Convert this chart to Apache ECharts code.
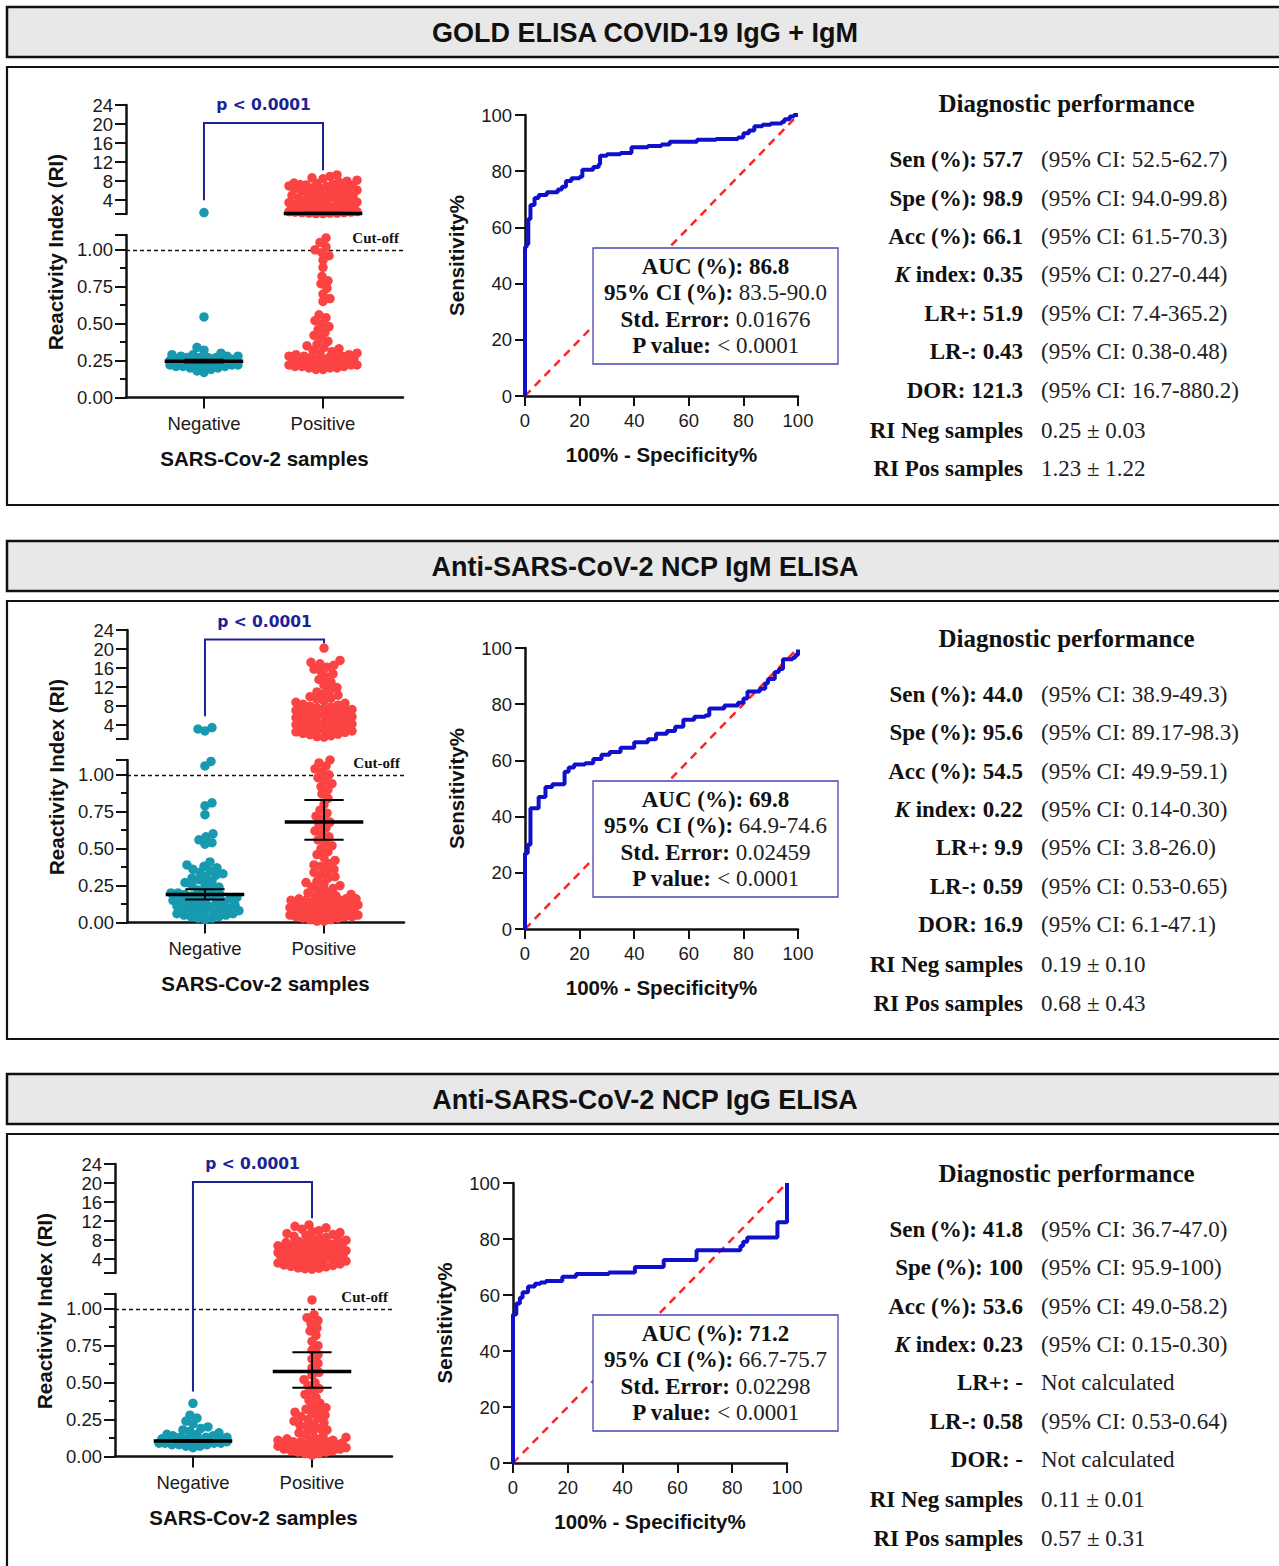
<!DOCTYPE html>
<html>
<head>
<meta charset="utf-8">
<script src="https://cdn.jsdelivr.net/npm/echarts@6/dist/echarts.min.js"></script>
<style>
  body { margin: 0; background: #fff; }
  #main { width: 1279px; height: 1566px; }
</style>
</head>
<body>
<div id="main"></div>
<script>
// ---- data ----
var panelTitles = ['GOLD ELISA COVID-19 IgG + IgM', 'Anti-SARS-CoV-2 NCP IgM ELISA', 'Anti-SARS-CoV-2 NCP IgG ELISA'];
var groups = ['Negative', 'Positive'];
var topTicks = [4, 8, 12, 16, 20, 24];
var bottomTicks = [0, 0.25, 0.5, 0.75, 1];
var minorTicks = [0.125, 0.375, 0.625, 0.875];
var breakAt = 1.1;
var topMax = 24;
var cutOff = 1;

// reactivity index, panel 1 (GOLD ELISA)
var neg1 = [1.4, 0.545, 0.34, 0.32, 0.30, 0.29, 0.29, 0.28, 0.28, 0.28, 0.27, 0.27, 0.27, 0.27, 0.26, 0.26, 0.26, 0.26, 0.26,
  0.25, 0.25, 0.25, 0.25, 0.25, 0.25, 0.24, 0.24, 0.24, 0.24, 0.24, 0.24, 0.23, 0.23, 0.23, 0.23, 0.23, 0.22, 0.22, 0.22, 0.22,
  0.21, 0.21, 0.21, 0.20, 0.20, 0.19, 0.18, 0.17];
var pos1 = [9.3, 9.0, 8.7, 8.5, 8.2, 8.0, 7.8, 7.6, 7.5, 7.4, 7.3, 7.2, 7.1, 7.0, 6.9, 6.8, 6.6, 6.5, 6.4, 6.2, 6.1, 6.0, 5.8,
  5.6, 5.5, 5.4, 5.2, 5.1, 5.0, 4.8, 4.6, 4.5, 4.4, 4.2, 4.1, 4.0, 3.8, 3.7, 3.6, 3.5, 3.3, 3.2, 3.1, 3.0, 2.9, 2.8, 2.6, 2.5,
  2.5, 2.4, 2.3, 2.2, 2.1, 2.0, 2.0, 1.9, 1.8, 1.8, 1.7, 1.6, 1.6, 1.5, 1.5, 1.4, 1.4, 1.3, 1.3, 1.3, 1.2, 1.2,
  1.08, 1.05, 1.02, 1.0, 0.98, 0.96, 0.93, 0.88, 0.82, 0.79, 0.77, 0.74, 0.70, 0.67, 0.65, 0.56, 0.54, 0.52, 0.50, 0.48, 0.46,
  0.44, 0.42, 0.40, 0.38, 0.36, 0.35, 0.34, 0.33, 0.32, 0.31, 0.30, 0.30, 0.29, 0.29, 0.28, 0.28, 0.28, 0.27, 0.27, 0.27,
  0.26, 0.26, 0.26, 0.25, 0.25, 0.25, 0.24, 0.24, 0.24, 0.23, 0.23, 0.23, 0.22, 0.22, 0.22, 0.21, 0.21, 0.21, 0.20, 0.20,
  0.20, 0.19, 0.19];

// panel 2 (NCP IgM)
var neg2 = [3.5, 3.2, 2.8, 1.09, 1.06, 0.81, 0.79, 0.73, 0.60, 0.58, 0.56, 0.54, 0.53, 0.41, 0.39, 0.38, 0.37, 0.36, 0.35, 0.34,
  0.33, 0.32, 0.31, 0.30, 0.29, 0.28, 0.27, 0.26, 0.25, 0.24, 0.23, 0.22, 0.21, 0.20, 0.20, 0.19, 0.19, 0.18, 0.18, 0.17, 0.17,
  0.16, 0.16, 0.15, 0.15, 0.14, 0.14, 0.13, 0.13, 0.12, 0.12, 0.11, 0.11, 0.10, 0.10, 0.09, 0.09, 0.08, 0.08, 0.07, 0.07,
  0.06, 0.06, 0.05, 0.05, 0.04, 0.04, 0.03, 0.03, 0.02];
var pos2 = [20.2, 17.6, 17.2, 16.9, 16.6, 16.2, 15.8, 15.3, 14.8, 14.2, 13.6, 13.0, 12.4, 11.9, 11.4, 11.0, 10.6, 10.3, 10.0,
  9.7, 9.4, 9.1, 8.8, 8.6, 8.4, 8.2, 8.0, 7.8, 7.6, 7.5, 7.3, 7.1, 7.0, 6.8, 6.6, 6.5, 6.3, 6.1, 6.0, 5.8, 5.6, 5.5, 5.3, 5.1,
  5.0, 4.8, 4.6, 4.5, 4.3, 4.1, 4.0, 3.8, 3.6, 3.5, 3.3, 3.1, 3.0, 2.8, 2.6, 2.5, 2.3, 2.1, 2.0, 1.8, 1.6, 1.5,
  1.10, 1.08, 1.06, 1.04, 1.02, 1.00, 0.98, 0.96, 0.94, 0.92, 0.90, 0.87, 0.84, 0.80, 0.76, 0.74, 0.72, 0.70, 0.68, 0.66,
  0.64, 0.62, 0.60, 0.58, 0.56, 0.54, 0.52, 0.50, 0.48, 0.46, 0.44, 0.42, 0.40, 0.39, 0.38, 0.36, 0.35, 0.34, 0.32, 0.31,
  0.30, 0.28, 0.27, 0.26, 0.25, 0.24, 0.23, 0.22, 0.21, 0.20, 0.19, 0.18, 0.18, 0.17, 0.17, 0.16, 0.16, 0.16, 0.15, 0.15,
  0.15, 0.14, 0.14, 0.14, 0.13, 0.13, 0.12, 0.12, 0.12, 0.11, 0.11, 0.10, 0.10, 0.10, 0.09, 0.09, 0.08, 0.08, 0.08, 0.07,
  0.07, 0.07, 0.06, 0.06, 0.06, 0.05, 0.05, 0.05, 0.04, 0.04, 0.04, 0.03, 0.03, 0.02, 0.02, 0.01, 0.01];

// panel 3 (NCP IgG)
var neg3 = [0.36, 0.28, 0.26, 0.24, 0.22, 0.20, 0.19, 0.18, 0.17, 0.16, 0.15, 0.15, 0.14, 0.14, 0.13, 0.13, 0.13, 0.12, 0.12,
  0.12, 0.12, 0.11, 0.11, 0.11, 0.11, 0.11, 0.10, 0.10, 0.10, 0.10, 0.10, 0.09, 0.09, 0.09, 0.09, 0.08, 0.08, 0.08, 0.07,
  0.07, 0.06];
var pos3 = [11.2, 10.9, 10.6, 10.3, 10.0, 9.8, 9.6, 9.4, 9.2, 9.0, 8.8, 8.6, 8.4, 8.2, 8.0, 7.9, 7.7, 7.5, 7.4, 7.2, 7.1, 7.0,
  6.9, 6.8, 6.7, 6.6, 6.5, 6.4, 6.3, 6.2, 6.1, 6.0, 5.9, 5.8, 5.7, 5.6, 5.5, 5.4, 5.3, 5.2, 5.1, 5.0, 4.9, 4.8, 4.7, 4.6, 4.5,
  4.4, 4.3, 4.2, 4.0, 3.9, 3.8, 3.6, 3.5, 3.4, 3.2, 3.1, 3.0, 2.8, 2.7, 2.5, 2.4, 2.2, 2.1, 2.0, 1.9,
  1.06, 0.96, 0.94, 0.92, 0.90, 0.87, 0.85, 0.82, 0.78, 0.75, 0.72, 0.69, 0.66, 0.63, 0.60, 0.57, 0.55, 0.52, 0.50, 0.48,
  0.46, 0.44, 0.42, 0.40, 0.38, 0.36, 0.34, 0.33, 0.32, 0.31, 0.30, 0.29, 0.28, 0.27, 0.26, 0.25, 0.24, 0.23, 0.22, 0.21,
  0.20, 0.19, 0.18, 0.17, 0.16, 0.15, 0.14, 0.13, 0.12, 0.12, 0.11, 0.11, 0.11, 0.10, 0.10, 0.10, 0.09, 0.09, 0.09, 0.08,
  0.08, 0.08, 0.08, 0.07, 0.07, 0.07, 0.07, 0.06, 0.06, 0.06, 0.05, 0.05, 0.05, 0.04, 0.04, 0.03, 0.03, 0.02, 0.02, 0.01];

// mean and 95% CI of mean, [Negative, Positive]
var means1 = [0.245, 1.23], ciLow1 = [0.237, 1.1], ciHigh1 = [0.255, 1.36];
var means2 = [0.19, 0.68], ciLow2 = [0.155, 0.56], ciHigh2 = [0.225, 0.83];
var means3 = [0.105, 0.575], ciLow3 = [0.1, 0.465], ciHigh3 = [0.112, 0.705];

// significance bracket ends (RI values): left foot, top, right foot
var bracketLeft = [4.0, 5.9, 0.44];
var bracketTop = [20.2, 22.0, 20.2];
var bracketRight = [10.3, 21.2, 12.6];
var pText = 'p < 0.0001';

// ROC curves: [100% - specificity, sensitivity]
var roc1 = [[0, 0], [0, 53], [0.6, 54], [1.2, 63], [2, 68], [3.5, 70.5], [5, 71.5], [8, 72.5], [12, 73.5], [13.5, 74.5],
  [15, 76.5], [17, 77.5], [20, 78], [21, 80.5], [25, 81.5], [27, 82.5], [27.5, 85.5], [30, 86], [35, 86.5], [39, 88.5],
  [45, 89], [50, 89.5], [53, 90.5], [60, 90.5], [63, 91.2], [70, 91.5], [78, 92], [80, 93.5], [82, 94.5], [84, 96],
  [87, 96.5], [90, 97], [94, 97.5], [95, 98.5], [97, 99.5], [98.5, 100], [100, 100]];
var roc2 = [[0, 0], [0, 27], [1, 30], [2, 43], [5, 47], [7.5, 50.5], [10, 51.5], [14.5, 56], [16, 57.5], [18, 58.5],
  [22, 59], [25, 60.5], [28, 62], [31, 63], [35, 64.5], [40, 66.5], [45, 67.5], [48, 69.5], [52, 70.5], [55, 72],
  [58, 74.5], [62, 75.5], [66, 76], [67.5, 78.5], [73, 79.5], [78, 80.5], [80, 82], [81.5, 84.5], [86, 85.5], [88, 87.5],
  [89, 89], [91.5, 91.5], [93, 92.5], [94.5, 96], [98, 96.5], [99, 97.5], [100, 99.5]];
var roc3 = [[0, 0], [0, 53], [1.2, 57], [2.5, 59], [3.5, 61], [5.5, 63], [8, 64], [10, 64.5], [12, 65], [18, 66.5],
  [23, 67.5], [35, 68], [42, 68], [44.5, 70], [55, 72.5], [67, 76], [82, 76], [83, 77.5], [84, 79], [85.5, 80.5],
  [96.5, 86], [100, 100]];
var diagLine = [[0, 0], [100, 100]];

var rocAuc = ['86.8', '69.8', '71.2'];
var rocCi = ['83.5-90.0', '64.9-74.6', '66.7-75.7'];
var rocSe = ['0.01676', '0.02459', '0.02298'];
var rocP = ['< 0.0001', '< 0.0001', '< 0.0001'];

var perfLabels1 = ['Sen (%): 57.7', 'Spe (%): 98.9', 'Acc (%): 66.1', 'K index: 0.35', 'LR+: 51.9', 'LR-: 0.43', 'DOR: 121.3', 'RI Neg samples', 'RI Pos samples'];
var perfValues1 = ['(95% CI: 52.5-62.7)', '(95% CI: 94.0-99.8)', '(95% CI: 61.5-70.3)', '(95% CI: 0.27-0.44)', '(95% CI: 7.4-365.2)', '(95% CI: 0.38-0.48)', '(95% CI: 16.7-880.2)', '0.25 ± 0.03', '1.23 ± 1.22'];
var perfLabels2 = ['Sen (%): 44.0', 'Spe (%): 95.6', 'Acc (%): 54.5', 'K index: 0.22', 'LR+: 9.9', 'LR-: 0.59', 'DOR: 16.9', 'RI Neg samples', 'RI Pos samples'];
var perfValues2 = ['(95% CI: 38.9-49.3)', '(95% CI: 89.17-98.3)', '(95% CI: 49.9-59.1)', '(95% CI: 0.14-0.30)', '(95% CI: 3.8-26.0)', '(95% CI: 0.53-0.65)', '(95% CI: 6.1-47.1)', '0.19 ± 0.10', '0.68 ± 0.43'];
var perfLabels3 = ['Sen (%): 41.8', 'Spe (%): 100', 'Acc (%): 53.6', 'K index: 0.23', 'LR+: -', 'LR-: 0.58', 'DOR: -', 'RI Neg samples', 'RI Pos samples'];
var perfValues3 = ['(95% CI: 36.7-47.0)', '(95% CI: 95.9-100)', '(95% CI: 49.0-58.2)', '(95% CI: 0.15-0.30)', 'Not calculated', '(95% CI: 0.53-0.64)', 'Not calculated', '0.11 ± 0.01', '0.57 ± 0.31'];

// ---- layout ----
var SANS = "'Liberation Sans', Arial, sans-serif";
var SERIF = "'Liberation Serif', 'Times New Roman', serif";
var TEAL = '#1799b0', RED = '#fb4343', NAVY = '#1c2396';
var SW = 277, TOPH = 109, GAP = 130, BOTH = 162.5;
var XMIN = 0.345, XMAX = 2.672;
var DOT = 9.5;
var rowOffsets = [56, 94.5, 133, 171.3, 209.5, 248, 286.5, 326.5, 365];
var layout = [
  { head: 7, box: 67, boxBottom: 505, sL: 126, sT: 105, rL: 525, rT: 115, rW: 273, rH: 281, auc: 248, perf: 103.5 },
  { head: 541, box: 601, boxBottom: 1039, sL: 127, sT: 630, rL: 525, rT: 648, rW: 273, rH: 281, auc: 781, perf: 638 },
  { head: 1074, box: 1134, boxBottom: 1620, sL: 115, sT: 1164, rL: 513, rT: 1183, rW: 274, rH: 280, auc: 1315, perf: 1173 }
];
var negs = [neg1, neg2, neg3], poss = [pos1, pos2, pos3];
var meansAll = [means1, means2, means3], lowsAll = [ciLow1, ciLow2, ciLow3], highsAll = [ciHigh1, ciHigh2, ciHigh3];
var rocs = [roc1, roc2, roc3];
var perfLabels = [perfLabels1, perfLabels2, perfLabels3], perfValues = [perfValues1, perfValues2, perfValues3];

// simple beeswarm: horizontal offsets in pixels so dots spread around the group centre
function swarm(vals, pyPerUnit, pxPerUnit, center) {
  var R = 7, MAXH = 34;
  var order = vals.map(function (v, i) { return i; }).sort(function (a, b) { return vals[a] - vals[b]; });
  var placed = [], out = [];
  order.forEach(function (i, n) {
    var y = vals[i] * pyPerUnit, best = 0, bestD = -1, done = false;
    for (var k = 0; k <= MAXH && !done; k++) {
      var cands = k === 0 ? [0] : (n % 2 ? [-k, k] : [k, -k]);
      for (var c = 0; c < cands.length; c++) {
        var dmin = Infinity;
        for (var j = 0; j < placed.length; j++) {
          var dy = placed[j][1] - y;
          if (Math.abs(dy) >= R) continue;
          var dx = placed[j][0] - cands[c];
          var d = Math.sqrt(dx * dx + dy * dy);
          if (d < dmin) dmin = d;
        }
        if (dmin >= R) { best = cands[c]; done = true; break; }
        if (dmin > bestD) { bestD = dmin; best = cands[c]; }
      }
    }
    placed.push([best, y]);
    out.push([center + best / pxPerUnit, vals[i]]);
  });
  return out;
}

function renderMean(params, api) {
  var x = api.value(0), m = api.value(1), lo = api.value(2), hi = api.value(3);
  var c = api.coord([x, m]), pLo = api.coord([x, lo]), pHi = api.coord([x, hi]);
  var half = api.size([0.33, 0])[0], cap = api.size([0.165, 0])[0];
  var st = { stroke: '#000', lineWidth: 2 };
  return {
    type: 'group', children: [
      { type: 'line', shape: { x1: c[0] - half, y1: c[1], x2: c[0] + half, y2: c[1] }, style: { stroke: '#000', lineWidth: 3.5 } },
      { type: 'line', shape: { x1: c[0], y1: pLo[1], x2: c[0], y2: pHi[1] }, style: st },
      { type: 'line', shape: { x1: c[0] - cap, y1: pLo[1], x2: c[0] + cap, y2: pLo[1] }, style: st },
      { type: 'line', shape: { x1: c[0] - cap, y1: pHi[1], x2: c[0] + cap, y2: pHi[1] }, style: st }
    ]
  };
}

var axisLineStyle = { color: '#111', width: 2.5 };
var tickStyle = { color: '#111', width: 2 };
var labelStyle = { color: '#1a1a1a', fontSize: 18.5, fontFamily: SANS };
var nameStyle = { color: '#111', fontSize: 20.5, fontWeight: 'bold', fontFamily: SANS };

var grids = [], xAxes = [], yAxes = [], series = [], graphics = [];
var pxPerX = SW / (XMAX - XMIN), pyTop = TOPH / (topMax - breakAt), pyBot = BOTH / breakAt;

layout.forEach(function (lay, p) {
  var gTop = 3 * p, gBot = 3 * p + 1, gRoc = 3 * p + 2;
  var yTop = 4 * p, yBot = 4 * p + 1, yRoc = 4 * p + 3;
  grids.push({ left: lay.sL, top: lay.sT, width: SW, height: TOPH });
  grids.push({ left: lay.sL, top: lay.sT + GAP, width: SW, height: BOTH });
  grids.push({ left: lay.rL, top: lay.rT, width: lay.rW, height: lay.rH });

  xAxes.push({ type: 'value', gridIndex: gTop, min: XMIN, max: XMAX, show: false });
  xAxes.push({
    type: 'value', gridIndex: gBot, min: XMIN, max: XMAX, splitLine: { show: false },
    axisLine: { onZero: false, lineStyle: axisLineStyle },
    axisTick: { customValues: [1, 2], length: 11, lineStyle: tickStyle },
    axisLabel: Object.assign({ customValues: [1, 2], margin: 16, formatter: function (v) { return groups[Math.round(v) - 1]; } }, labelStyle),
    name: 'SARS-Cov-2 samples', nameLocation: 'middle', nameGap: 50, nameTextStyle: nameStyle
  });
  xAxes.push({
    type: 'value', gridIndex: gRoc, min: 0, max: 100, interval: 20, splitLine: { show: false },
    axisLine: { onZero: false, lineStyle: axisLineStyle },
    axisTick: { length: 10, lineStyle: tickStyle },
    axisLabel: Object.assign({ margin: 15 }, labelStyle),
    name: '100% - Specificity%', nameLocation: 'middle', nameGap: 48, nameTextStyle: nameStyle
  });

  yAxes.push({
    type: 'value', gridIndex: gTop, position: 'left', min: breakAt, max: topMax, splitLine: { show: false },
    axisLine: { onZero: false, lineStyle: axisLineStyle },
    axisTick: { customValues: [breakAt].concat(topTicks), length: 11, lineStyle: tickStyle },
    axisLabel: Object.assign({ customValues: topTicks, margin: 13 }, labelStyle)
  });
  yAxes.push({
    type: 'value', gridIndex: gBot, position: 'left', min: 0, max: breakAt, splitLine: { show: false },
    axisLine: { onZero: false, lineStyle: axisLineStyle },
    axisTick: { customValues: bottomTicks.concat([breakAt]), length: 11, lineStyle: tickStyle },
    axisLabel: Object.assign({ customValues: bottomTicks, margin: 13, formatter: function (v) { return v.toFixed(2); } }, labelStyle)
  });
  // short minor ticks on the same left edge
  yAxes.push({
    type: 'value', gridIndex: gBot, position: 'left', offset: 0, min: 0, max: breakAt, splitLine: { show: false },
    axisLine: { show: false, onZero: false }, axisLabel: { show: false },
    axisTick: { customValues: minorTicks, length: 6, lineStyle: tickStyle }
  });
  yAxes.push({
    type: 'value', gridIndex: gRoc, position: 'left', min: 0, max: 100, interval: 20, splitLine: { show: false },
    axisLine: { onZero: false, lineStyle: axisLineStyle },
    axisTick: { length: 10, lineStyle: tickStyle },
    axisLabel: Object.assign({ margin: 13 }, labelStyle),
    name: 'Sensitivity%', nameLocation: 'middle', nameGap: 58, nameRotate: 90, nameTextStyle: nameStyle
  });

  // dots, split at the axis break
  [negs[p], poss[p]].forEach(function (vals, g) {
    var color = g === 0 ? TEAL : RED;
    var hi = vals.filter(function (v) { return v > breakAt; });
    var lo = vals.filter(function (v) { return v <= breakAt; });
    series.push({
      type: 'scatter', xAxisIndex: 3 * p, yAxisIndex: yTop, symbolSize: DOT, z: 3,
      itemStyle: { color: color, opacity: 1 }, data: swarm(hi, pyTop, pxPerX, g + 1)
    });
    var bot = {
      type: 'scatter', xAxisIndex: 3 * p + 1, yAxisIndex: yBot, symbolSize: DOT, z: 3,
      itemStyle: { color: color, opacity: 1 }, data: swarm(lo, pyBot, pxPerX, g + 1)
    };
    if (g === 0) {
      bot.markLine = {
        silent: true, symbol: ['none', 'none'], z: 2,
        lineStyle: { color: '#111', type: [4, 3], width: 1.3 },
        label: { position: 'insideEndTop', formatter: 'Cut-off', color: '#111', fontFamily: SERIF, fontWeight: 'bold', fontSize: 15, distance: 4 },
        data: [{ yAxis: cutOff }]
      };
    }
    series.push(bot);
  });

  // mean with 95% CI
  var mTop = [], mBot = [];
  meansAll[p].forEach(function (m, g) {
    var row = [g + 1, m, lowsAll[p][g], highsAll[p][g]];
    (m > breakAt ? mTop : mBot).push(row);
  });
  series.push({ type: 'custom', xAxisIndex: 3 * p, yAxisIndex: yTop, z: 6, renderItem: renderMean, encode: { x: 0, y: 1 }, data: mTop });
  series.push({ type: 'custom', xAxisIndex: 3 * p + 1, yAxisIndex: yBot, z: 6, renderItem: renderMean, encode: { x: 0, y: 1 }, data: mBot });

  // ROC
  series.push({
    type: 'line', xAxisIndex: gRoc, yAxisIndex: yRoc, data: diagLine, symbol: 'none', z: 2,
    lineStyle: { color: '#ff2323', width: 2.5, type: [8, 6] }
  });
  series.push({
    type: 'line', xAxisIndex: gRoc, yAxisIndex: yRoc, data: rocs[p], symbol: 'none', step: 'end', z: 3,
    lineStyle: { color: '#1010cc', width: 4 }
  });

  // panel frames and headers
  graphics.push({ type: 'rect', id: 'box' + p, z: 1, shape: { x: 7, y: lay.box, width: 1300, height: lay.boxBottom - lay.box }, style: { fill: 'none', stroke: '#111', lineWidth: 2.2 } });
  graphics.push({ type: 'rect', id: 'head' + p, z: 1, shape: { x: 7, y: lay.head, width: 1300, height: 50 }, style: { fill: '#e8e8e8', stroke: '#111', lineWidth: 2.5 } });
  graphics.push({ type: 'text', id: 'headT' + p, z: 2, x: 645, y: lay.head + 26,
    style: { text: panelTitles[p], align: 'center', verticalAlign: 'middle', fontSize: 27, fontWeight: 'bold', fontFamily: SANS, fill: '#111' } });
  // shared y-axis title of the broken axis
  graphics.push({ type: 'text', id: 'yname' + p, z: 2, x: lay.sL - 71, y: lay.sT + 147, rotation: Math.PI / 2,
    style: { text: 'Reactivity Index (RI)', align: 'center', verticalAlign: 'middle', fontSize: 20.5, fontWeight: 'bold', fontFamily: SANS, fill: '#111' } });
  // AUC box
  graphics.push({ type: 'rect', id: 'auc' + p, z: 20, shape: { x: 593, y: lay.auc, width: 245, height: 116 }, style: { fill: '#fff', stroke: '#4747b5', lineWidth: 1.3 } });
  graphics.push({ type: 'text', id: 'aucT' + p, z: 21, x: 715.5, y: lay.auc + 58,
    style: {
      text: '{b|AUC (%): ' + rocAuc[p] + '}\n{b|95% CI (%): }{r|' + rocCi[p] + '}\n{b|Std. Error: }{r|' + rocSe[p] + '}\n{b|P value: }{r|' + rocP[p] + '}',
      align: 'center', verticalAlign: 'middle', lineHeight: 26.3, fontSize: 23, fontFamily: SERIF, fill: '#111',
      rich: {
        b: { fontWeight: 'bold', fontSize: 23, fontFamily: SERIF, fill: '#111', lineHeight: 26.3 },
        r: { fontSize: 23, fontFamily: SERIF, fill: '#222', lineHeight: 26.3 }
      }
    } });
  // diagnostic performance table
  graphics.push({ type: 'text', id: 'perfT' + p, z: 2, x: 1066.5, y: lay.perf,
    style: { text: 'Diagnostic performance', align: 'center', verticalAlign: 'middle', fontSize: 25, fontWeight: 'bold', fontFamily: SERIF, fill: '#111' } });
  perfLabels[p].forEach(function (lab, r) {
    var y = lay.perf + rowOffsets[r];
    var txt = lab.indexOf('K ') === 0 ? '{k|K}{b|' + lab.slice(1) + '}' : '{b|' + lab + '}';
    graphics.push({ type: 'text', id: 'pl' + p + '_' + r, z: 2, x: 1023, y: y,
      style: {
        text: txt, align: 'right', verticalAlign: 'middle', fontSize: 23, fontFamily: SERIF,
        rich: {
          b: { fontWeight: 'bold', fontSize: 23, fontFamily: SERIF, fill: '#111' },
          k: { fontWeight: 'bold', fontStyle: 'italic', fontSize: 23, fontFamily: SERIF, fill: '#111' }
        }
      } });
    graphics.push({ type: 'text', id: 'pv' + p + '_' + r, z: 2, x: 1041, y: y,
      style: { text: perfValues[p][r], align: 'left', verticalAlign: 'middle', fontSize: 23, fontFamily: SERIF, fill: '#222' } });
  });
});

var chart = echarts.init(document.getElementById('main'), null, { renderer: 'svg' });
chart.setOption({
  animation: false,
  backgroundColor: '#fff',
  grid: grids,
  xAxis: xAxes,
  yAxis: yAxes,
  series: series,
  graphic: graphics
});

// significance brackets, placed through the axes
var extra = [];
layout.forEach(function (lay, p) {
  var topRef = { xAxisIndex: 3 * p, yAxisIndex: 4 * p };
  var botRef = { xAxisIndex: 3 * p + 1, yAxisIndex: 4 * p + 1 };
  var leftRef = bracketLeft[p] > breakAt ? topRef : botRef;
  var a = chart.convertToPixel(leftRef, [1, bracketLeft[p]]);
  var b = chart.convertToPixel(topRef, [1, bracketTop[p]]);
  var c = chart.convertToPixel(topRef, [2, bracketTop[p]]);
  var d = chart.convertToPixel(topRef, [2, bracketRight[p]]);
  extra.push({ type: 'polyline', id: 'br' + p, z: 5, shape: { points: [a, b, c, d] }, style: { stroke: NAVY, lineWidth: 2, fill: 'none' } });
  extra.push({ type: 'text', id: 'brT' + p, z: 5, x: (b[0] + c[0]) / 2, y: b[1] - 18,
    style: { text: pText, align: 'center', verticalAlign: 'middle', fontSize: 15.5, fontWeight: 'bold', fontFamily: "'DejaVu Sans', Verdana, sans-serif", fill: NAVY } });
});
chart.setOption({ graphic: extra });
</script>
</body>
</html>
